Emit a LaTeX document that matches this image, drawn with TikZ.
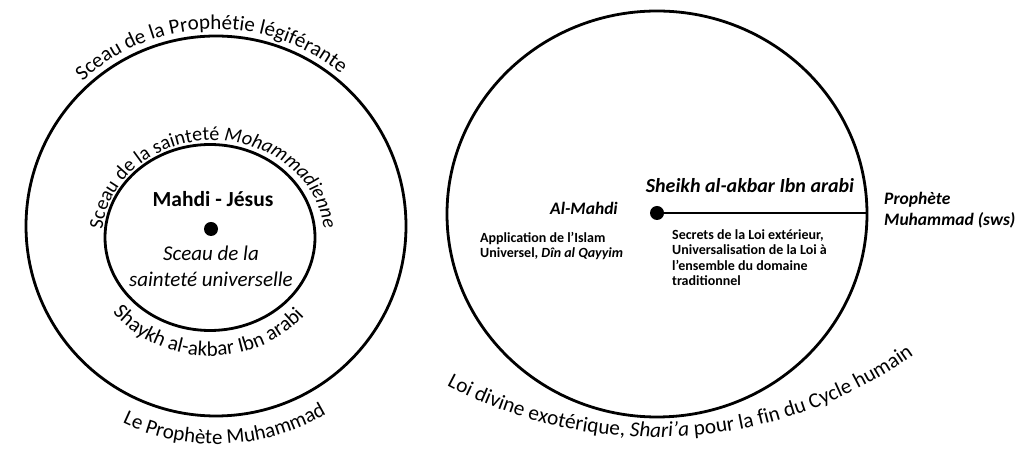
\documentclass[tikz,border=0pt]{standalone}
\usepackage{fontspec}
\setmainfont{Carlito}
\usetikzlibrary{decorations.text}
\newcommand\curvefont{\fontsize{21}{25}\selectfont}
\newcommand\midcurvefont{\fontsize{20}{24}\selectfont}
\newcommand\lowcurvefont{\fontsize{21.3}{25}\selectfont}
\tikzset{
  ring/.style={draw=black, line width=2.8pt},
  dotnode/.style={circle, fill=black, inner sep=0pt, minimum size=14pt},
  bigbold/.style={font=\fontsize{21.5}{26}\selectfont\bfseries, inner sep=0pt},
  bigital/.style={font=\fontsize{21}{26}\selectfont\itshape, align=center, inner sep=0pt},
  rtitle/.style={font=\fontsize{20}{24}\selectfont\bfseries\itshape, inner sep=0pt},
  rlabel/.style={font=\fontsize{17.5}{21}\selectfont\bfseries\itshape, inner sep=0pt, align=left},
  rsmall/.style={font=\fontsize{14}{15.5}\selectfont\bfseries, inner sep=0pt, align=left},
  curved/.style={decorate, decoration={text along path, text align=center, text={#1}}},
}
\begin{document}
\begin{tikzpicture}[x=1pt,y=1pt]
\useasboundingbox (0,0) rectangle (1020,449);
% ---------- left figure ----------
\draw[ring] (216,223) circle[radius=190];
\draw[ring] (210,211.5) ellipse[x radius=105, y radius=93];
\node[dotnode] (ldot) at (211,220) {};
\node[bigbold] (mahdi) at (213,250) {Mahdi - Jésus};
\node[bigital] (sceauU) at (211,183) {Sceau de la\\sainteté universelle};
\path[curved={|\curvefont|Sceau de la Prophétie légiférante}]
  (216,223) ++(183.2:197) arc[start angle=183.2, end angle=0, radius=197];
\path[curved={|\curvefont|Le Prophète Muhammad}]
  (216,223) ++(185:218) arc[start angle=185, end angle=360, radius=218];
\path[curved={|\midcurvefont|Sceau de la sainteté |\midcurvefont\itshape|Mohammadienne}]
  (213,211.5) ++(180:111 and 97) arc[start angle=180, end angle=0, x radius=111, y radius=97];
\path[curved={|\curvefont|Shaykh al-akbar Ibn arabi}]
  (210,211.5) ++(178:126 and 118.5) arc[start angle=178, end angle=360, x radius=126, y radius=118.5];
% ---------- right figure ----------
\draw[ring] (657,235) ellipse[x radius=210, y radius=203];
\node[dotnode] (rdot) at (657,236) {};
\coordinate (reast) at (867,236);
\draw[ring] (rdot.center) -- (reast);
\node[rtitle] (sheikh) at (750,263) {Sheikh al-akbar Ibn arabi};
\node[rlabel] (almahdi) at (584,241) {Al-Mahdi};
\node[rsmall, anchor=west] (appl) at (480,203) {Application de l’Islam\\Universel, \textit{Dîn al Qayyim}};
\node[rsmall, anchor=west] (secrets) at (672,191.5) {Secrets de la Loi extérieur,\\Universalisation de la Loi à\\l’ensemble du domaine\\traditionnel};
\node[rlabel, anchor=west] (prophete) at (884,239) {Prophète\\Muhammad (sws)};
\path[curved={|\lowcurvefont|Loi divine exotérique, |\lowcurvefont\itshape|Shari’a|\lowcurvefont| pour la fin du Cycle humain}]
  (655.5,457.3) ++(228.7:445.5) arc[start angle=228.7, end angle=318.7, radius=445.5];
\end{tikzpicture}
\end{document}
